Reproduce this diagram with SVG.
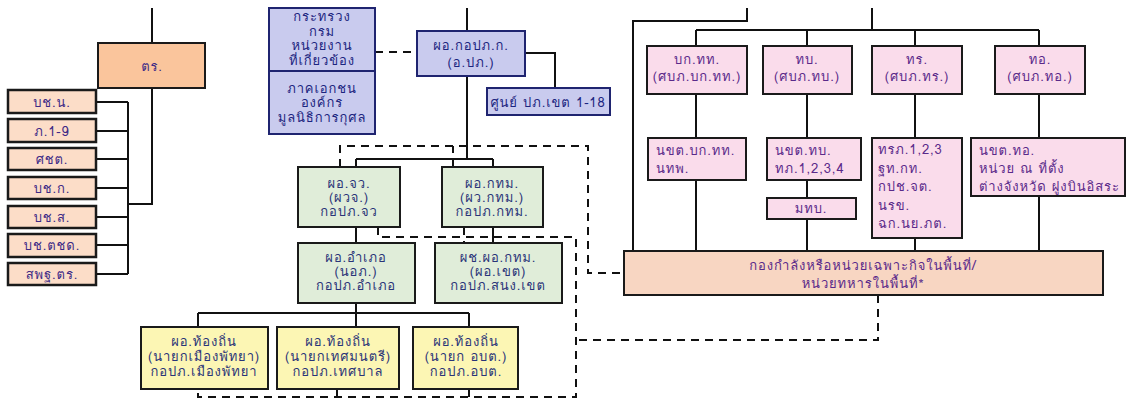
<svg xmlns="http://www.w3.org/2000/svg" width="1128" height="405" viewBox="0 0 1128 405">
<style>
text{font-family:"Tahoma","Loma","Garuda","Noto Sans Thai","DejaVu Sans","Liberation Sans",sans-serif;font-size:13px;letter-spacing:0.9px;dominant-baseline:central}
.c{text-anchor:middle}
.l{text-anchor:start}
.peach{fill:#FAC59C;stroke:#1a1a1a;stroke-width:2}
.lpeach{fill:#FCDDC8;stroke:#1a1a1a;stroke-width:2.5}
.force{fill:#F8D6C2;stroke:#1a1a1a;stroke-width:2}
.blue{fill:#C9CBEE;stroke:#1F2470;stroke-width:2}
.green{fill:#E0EDD9;stroke:#1a1a1a;stroke-width:2}
.yellow{fill:#FCF6B4;stroke:#1a1a1a;stroke-width:2}
.pink{fill:#FADCEB;stroke:#1a1a1a;stroke-width:2}
.tp{fill:#3E2A86}
.tb{fill:#1C2580}
.tg{fill:#2A3478}
.tk{fill:#5A2A8A}
.ln{fill:none;stroke:#111;stroke-width:2}
.ds{fill:none;stroke:#111;stroke-width:2;stroke-dasharray:8 6}
</style>
<g id="connectors">
<path class="ln" d="M152 8V43M152 88V204H128M128 102V274M96 102H128M96 131H128M96 159H128M96 188H128M96 217H128M96 245H128M96 274H128"/>
<path class="ln" d="M467 8V31M467 76V159M356 159H493M356 159V167M493 159V167M525 53H555V88"/>
<path class="ds" d="M375 52H417"/>
<path class="ln" d="M356 227V243M493 227V243M356 303V326M198 313H469M198 313V327M469 313V327"/>
<path class="ln" d="M747 8V21H633V251M872 8V30M696 30H1039M696 30V46M807 30V46M915 30V46M1039 30V46M696 94V138M807 94V138M915 94V138M1039 94V138M696 180V251M807 180V198M807 219V251M915 238V251M1039 196V251"/>
<path class="ds" d="M340 167V146H588V273H624"/>
<path class="ds" d="M453 167V146"/>
<path class="ds" d="M378 227V237H576V397H198V389M337 389V397M469 389V397"/>
<path class="ds" d="M464 227V243"/>
<path class="ds" d="M878 295V340H576"/>
</g>
<g id="n-tr"><rect class="peach" x="98" y="43" width="107" height="45"/><text class="c tp" x="152" y="66">ตร.</text></g>
<g id="n-bchn"><rect class="lpeach" x="8" y="90" width="88" height="23"/><text class="c tp" x="52" y="102">บช.น.</text></g>
<g id="n-ph19"><rect class="lpeach" x="8" y="119" width="88" height="23"/><text class="c tp" x="52" y="131">ภ.1-9</text></g>
<g id="n-schd"><rect class="lpeach" x="8" y="148" width="88" height="22"/><text class="c tp" x="52" y="159">ศชต.</text></g>
<g id="n-bchk"><rect class="lpeach" x="8" y="177" width="88" height="22"/><text class="c tp" x="52" y="188">บช.ก.</text></g>
<g id="n-bchs"><rect class="lpeach" x="8" y="206" width="88" height="22"/><text class="c tp" x="52" y="217">บช.ส.</text></g>
<g id="n-bchtchd"><rect class="lpeach" x="8" y="234" width="88" height="23"/><text class="c tp" x="52" y="245">บช.ตชด.</text></g>
<g id="n-sphtr"><rect class="lpeach" x="8" y="263" width="88" height="22"/><text class="c tp" x="52" y="274">สพฐ.ตร.</text></g>

<g id="n-ministry"><rect class="blue" x="269" y="8" width="106" height="63"/><text class="c tb" x="322" y="16">กระทรวง</text><text class="c tb" x="322" y="31">กรม</text><text class="c tb" x="322" y="45">หน่วยงาน</text><text class="c tb" x="322" y="60">ที่เกี่ยวข้อง</text></g>
<g id="n-private"><rect class="blue" x="269" y="71" width="106" height="63"/><text class="c tb" x="322" y="88">ภาคเอกชน</text><text class="c tb" x="322" y="102">องค์กร</text><text class="c tb" x="322" y="117">มูลนิธิการกุศล</text></g>
<g id="n-dir"><rect class="blue" x="417" y="31" width="108" height="45"/><text class="c tb" x="471" y="45">ผอ.กอปภ.ก.</text><text class="c tb" x="471" y="62">(อ.ปภ.)</text></g>
<g id="n-center"><rect class="blue" x="487" y="88" width="123" height="27"/><text class="c tb" x="548" y="102">ศูนย์ ปภ.เขต 1-18</text></g>

<g id="n-province"><rect class="green" x="298" y="167" width="102" height="60"/><text class="c tg" x="349" y="183">ผอ.จว.</text><text class="c tg" x="349" y="197">(ผวจ.)</text><text class="c tg" x="349" y="211">กอปภ.จว</text></g>
<g id="n-bkk"><rect class="green" x="442" y="167" width="101" height="60"/><text class="c tg" x="492" y="183">ผอ.กทม.</text><text class="c tg" x="492" y="197">(ผว.กทม.)</text><text class="c tg" x="492" y="211">กอปภ.กทม.</text></g>
<g id="n-district"><rect class="green" x="298" y="243" width="117" height="60"/><text class="c tg" x="356" y="257">ผอ.อำเภอ</text><text class="c tg" x="356" y="271">(นอภ.)</text><text class="c tg" x="356" y="285">กอปภ.อำเภอ</text></g>
<g id="n-bkkdistrict"><rect class="green" x="435" y="243" width="127" height="60"/><text class="c tg" x="498" y="257">ผช.ผอ.กทม.</text><text class="c tg" x="498" y="271">(ผอ.เขต)</text><text class="c tg" x="498" y="285">กอปภ.สนง.เขต</text></g>

<g id="n-pattaya"><rect class="yellow" x="141" y="327" width="127" height="62"/><text class="c tg" x="204" y="341">ผอ.ท้องถิ่น</text><text class="c tg" x="204" y="356">(นายกเมืองพัทยา)</text><text class="c tg" x="204" y="371">กอปภ.เมืองพัทยา</text></g>
<g id="n-municipal"><rect class="yellow" x="277" y="327" width="122" height="62"/><text class="c tg" x="338" y="341">ผอ.ท้องถิ่น</text><text class="c tg" x="338" y="356">(นายกเทศมนตรี)</text><text class="c tg" x="338" y="371">กอปภ.เทศบาล</text></g>
<g id="n-sao"><rect class="yellow" x="413" y="327" width="105" height="62"/><text class="c tg" x="466" y="341">ผอ.ท้องถิ่น</text><text class="c tg" x="466" y="356">(นายก อบต.)</text><text class="c tg" x="466" y="371">กอปภ.อบต.</text></g>

<g id="n-suprcmd"><rect class="pink" x="647" y="46" width="100" height="48"/><text class="c tk" x="697" y="59">บก.ทท.</text><text class="c tk" x="697" y="76">(ศบภ.บก.ทท.)</text></g>
<g id="n-army"><rect class="pink" x="763" y="46" width="89" height="48"/><text class="c tk" x="807" y="59">ทบ.</text><text class="c tk" x="807" y="76">(ศบภ.ทบ.)</text></g>
<g id="n-navy"><rect class="pink" x="872" y="46" width="90" height="48"/><text class="c tk" x="917" y="59">ทร.</text><text class="c tk" x="917" y="76">(ศบภ.ทร.)</text></g>
<g id="n-airforce"><rect class="pink" x="995" y="46" width="90" height="48"/><text class="c tk" x="1040" y="59">ทอ.</text><text class="c tk" x="1040" y="76">(ศบภ.ทอ.)</text></g>

<g id="n-suprunits"><rect class="pink" x="648" y="138" width="98" height="42"/><text class="l tk" x="656" y="150">นขต.บก.ทท.</text><text class="l tk" x="656" y="168">นทพ.</text></g>
<g id="n-armyunits"><rect class="pink" x="767" y="138" width="94" height="42"/><text class="l tk" x="775" y="150">นขต.ทบ.</text><text class="l tk" x="775" y="168">ทภ.1,2,3,4</text></g>
<g id="n-mtb"><rect class="pink" x="767" y="198" width="89" height="21"/><text class="c tk" x="811" y="208.5">มทบ.</text></g>
<g id="n-navyunits"><rect class="pink" x="872" y="138" width="90" height="100"/><text class="l tk" x="878" y="149">ทรภ.1,2,3</text><text class="l tk" x="878" y="168">ฐท.กท.</text><text class="l tk" x="878" y="186">กปช.จต.</text><text class="l tk" x="878" y="205">นรข.</text><text class="l tk" x="878" y="223">ฉก.นย.ภต.</text></g>
<g id="n-afunits"><rect class="pink" x="971" y="138" width="154" height="58"/><text class="l tk" x="979" y="150">นขต.ทอ.</text><text class="l tk" x="979" y="168">หน่วย ณ ที่ตั้ง</text><text class="l tk" x="979" y="186">ต่างจังหวัด ฝูงบินอิสระ</text></g>

<g id="n-force"><rect class="force" x="624" y="251" width="479" height="44"/><text class="c tk" x="863" y="265">กองกำลังหรือหน่วยเฉพาะกิจในพื้นที่/</text><text class="c tk" x="863" y="283">หน่วยทหารในพื้นที่*</text></g>
</svg>
